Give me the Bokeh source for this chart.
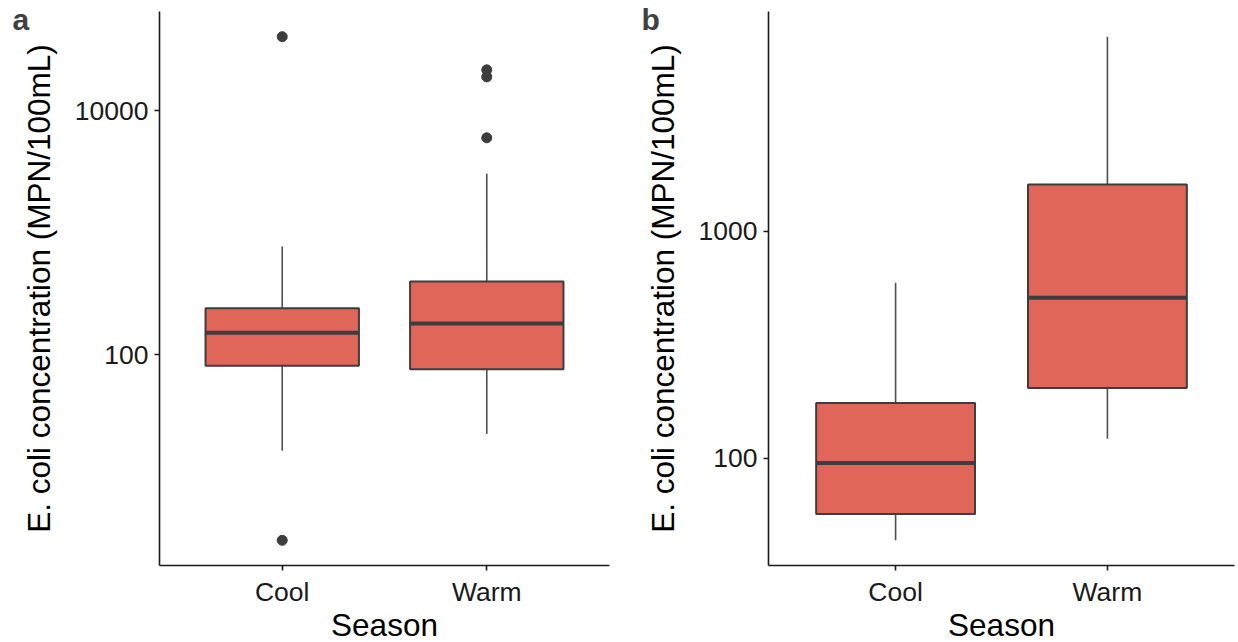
import math
from bokeh.plotting import figure
from bokeh.layouts import row
from bokeh.models import Range1d, FixedTicker, NumeralTickFormatter, Title
from bokeh.embed import file_html
from bokeh.resources import INLINE

# ---------------- data ----------------
categories = ["Cool", "Warm"]

# panel a
a_lower_whisker = [16.3, 22.4]
a_q1 = [81.0, 76.0]
a_median = [151.0, 180.0]
a_q3 = [240.0, 399.0]
a_upper_whisker = [773.0, 3050.0]
a_outlier_season = ["Cool", "Cool", "Warm", "Warm", "Warm"]
a_outlier_value = [40600.0, 3.0, 21700.0, 19000.0, 6010.0]
a_ticks = [100, 10000]

# panel b
b_lower_whisker = [43.5, 122.0]
b_q1 = [56.8, 204.0]
b_median = [95.3, 509.0]
b_q3 = [175.0, 1607.0]
b_upper_whisker = [593.0, 7190.0]
b_outlier_season = []
b_outlier_value = []
b_ticks = [100, 1000]

FONT = "Liberation Sans"
FILL = "#E0665A"
DARK = "#3d3d3d"
WHISK = "#505050"


def panel(letter, lower, q1, med, q3, upper, out_s, out_v, ticks,
          frame_w, border_l, border_r, letter_offset):
    pos = [i + 1 for i in range(len(categories))]
    idx = {c: i + 1 for i, c in enumerate(categories)}
    vals = list(lower) + list(upper) + list(out_v)
    lo, hi = math.log10(min(vals)), math.log10(max(vals))
    pad = 0.05 * (hi - lo)
    p = figure(x_range=Range1d(0.4, 2.6),
               y_range=Range1d(10 ** (lo - pad), 10 ** (hi + pad)),
               y_axis_type="log",
               frame_width=frame_w, frame_height=554,
               min_border_left=border_l, min_border_right=border_r,
               min_border_top=11, min_border_bottom=77,
               output_backend="svg", toolbar_location=None)
    p.outline_line_color = None
    p.xgrid.visible = False
    p.ygrid.visible = False
    p.background_fill_color = "white"
    p.border_fill_color = "white"

    hw = 0.375
    p.segment(x0=pos, y0=q3, x1=pos, y1=upper, line_color=WHISK, line_width=1.6)
    p.segment(x0=pos, y0=lower, x1=pos, y1=q1, line_color=WHISK, line_width=1.6)
    p.quad(left=[x - hw for x in pos], right=[x + hw for x in pos],
           bottom=q1, top=q3, fill_color=FILL, line_color=DARK, line_width=2)
    p.segment(x0=[x - hw for x in pos], y0=med, x1=[x + hw for x in pos], y1=med,
              line_color=DARK, line_width=4, line_cap="butt")
    if out_v:
        p.scatter(x=[idx[s] for s in out_s], y=out_v, size=10,
                  fill_color=DARK, line_color=DARK)

    for ax in (p.xaxis[0], p.yaxis[0]):
        ax.axis_line_color = "#1a1a1a"
        ax.axis_line_width = 1.6
        ax.major_tick_line_color = "#1a1a1a"
        ax.major_tick_line_width = 1.6
        ax.major_tick_in = 0
        ax.major_tick_out = 5
        ax.minor_tick_line_color = None
        ax.major_label_text_font = FONT
        ax.major_label_text_font_size = "26.5px"
        ax.major_label_text_color = "#1a1a1a"
        ax.axis_label_text_font = FONT
        ax.axis_label_text_font_size = "31.5px"
        ax.axis_label_text_font_style = "normal"
        ax.axis_label_text_color = "black"

    p.xaxis.ticker = FixedTicker(ticks=pos)
    p.xaxis.major_label_overrides = {x: c for x, c in zip(pos, categories)}
    p.xaxis.axis_label = "Season"
    p.xaxis.major_label_standoff = 6
    p.xaxis.axis_label_standoff = -3

    p.yaxis.ticker = FixedTicker(ticks=ticks)
    p.yaxis.formatter = NumeralTickFormatter(format="0")
    p.yaxis.axis_label = "E. coli concentration (MPN/100mL)"
    p.yaxis.major_label_standoff = 6
    p.yaxis.axis_label_standoff = 15

    p.add_layout(Title(text=letter, align="left", vertical_align="bottom",
                       offset=letter_offset, standoff=-48,
                       text_font=FONT, text_font_size="30px",
                       text_font_style="bold", text_color="#404040"), "above")
    return p


p1 = panel("a", a_lower_whisker, a_q1, a_median, a_q3, a_upper_whisker,
           a_outlier_season, a_outlier_value, a_ticks, 450, 159, 9, -147)
p2 = panel("b", b_lower_whisker, b_q1, b_median, b_q3, b_upper_whisker,
           b_outlier_season, b_outlier_value, b_ticks, 466, 150, 4, -127)

layout = row(p1, p2)
open("out.html", "w").write(file_html(layout, INLINE))
